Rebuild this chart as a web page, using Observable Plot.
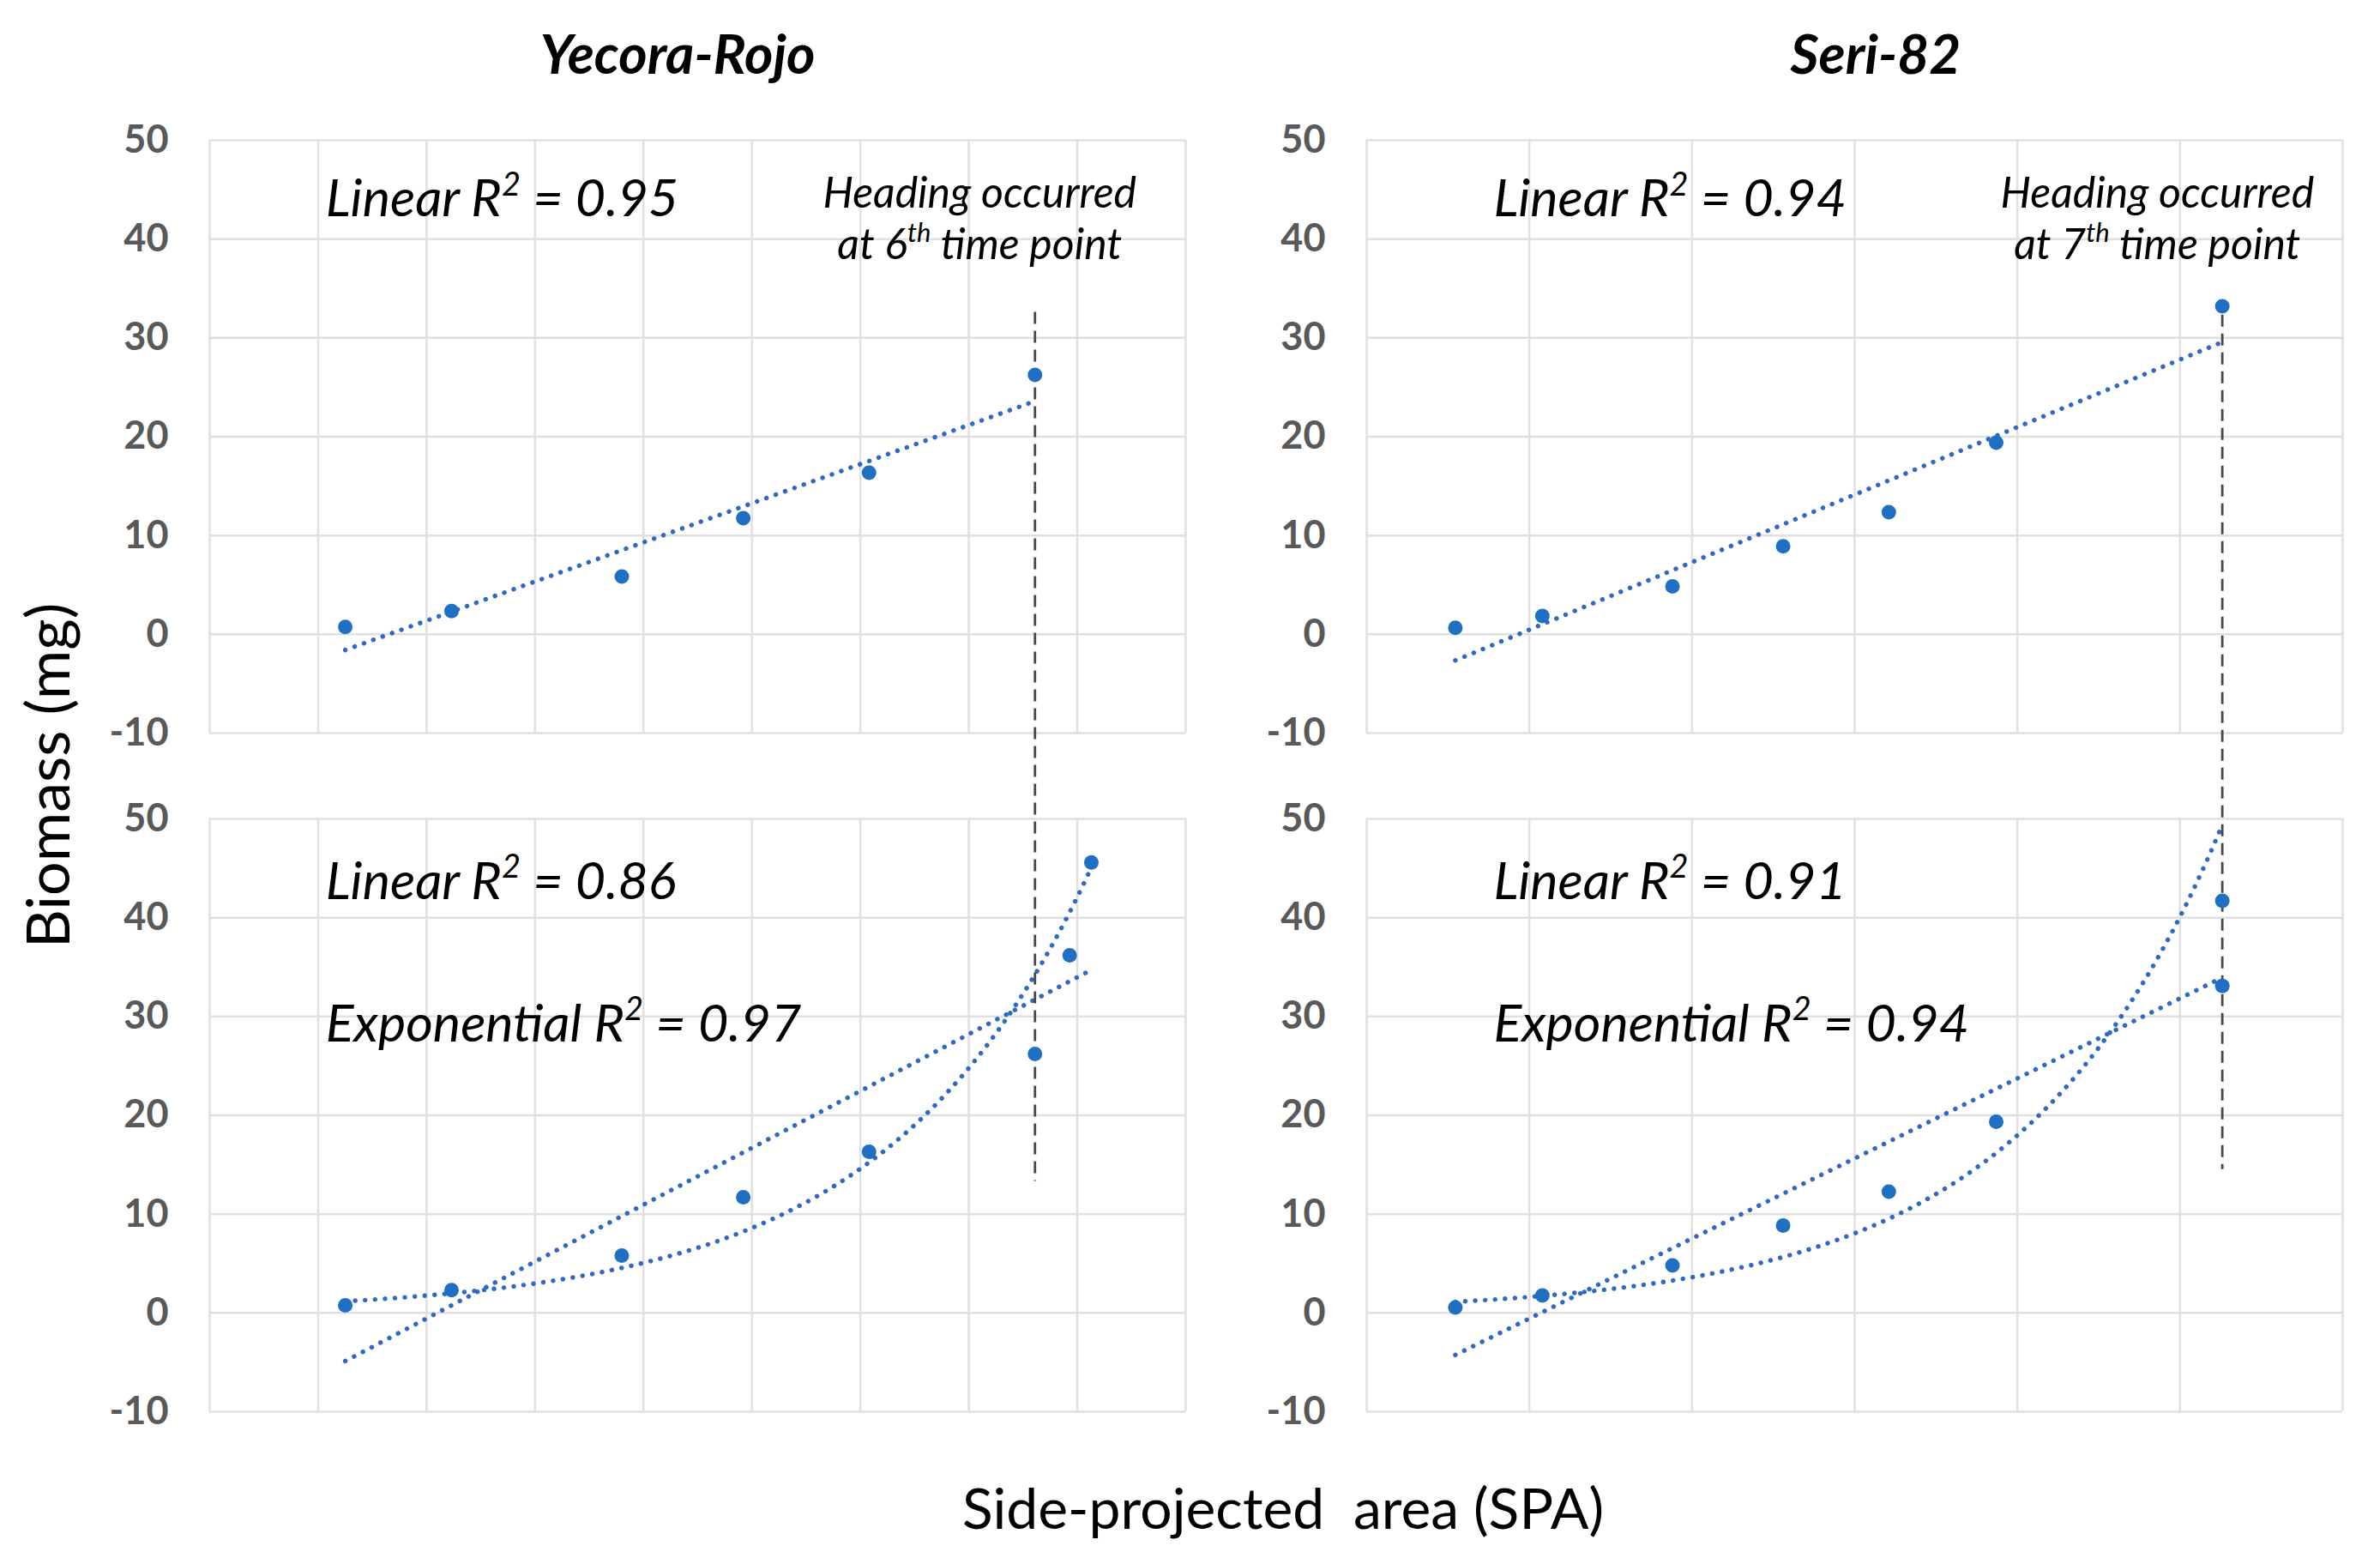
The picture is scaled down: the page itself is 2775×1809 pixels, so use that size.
<!DOCTYPE html>
<html><head><meta charset="utf-8">
<script src="https://cdn.jsdelivr.net/npm/d3@7"></script>
<script src="https://cdn.jsdelivr.net/npm/@observablehq/plot@0.6"></script>
<style>
html,body{margin:0;padding:0;background:#fff;}
#fig{position:relative;width:2775px;height:1809px;font-family:Lato,"Open Sans",sans-serif;overflow:hidden;background:#fff;}
.abs{position:absolute;white-space:nowrap;line-height:1;}
svg{overflow:visible;}
</style></head><body><div id="fig"></div>
<script>
// ---------- data ----------
const titles = ["Yecora-Rojo", "Seri-82"];
const yTicks = [-10, 0, 10, 20, 30, 40, 50];
const yecoraGridX = [0, 1, 2, 3, 4, 5, 6, 7, 8, 9];
const seriGridX = [0, 1, 2, 3, 4, 5, 6];

const yecoraTopSPA = [1.25, 2.23, 3.80, 4.92, 6.08, 7.61];
const yecoraTopBiomass = [0.75, 2.35, 5.85, 11.75, 16.35, 26.25];
const yecoraBottomSPA = [1.25, 2.23, 3.80, 4.92, 6.08, 7.61, 7.93, 8.13];
const yecoraBottomBiomass = [0.76, 2.3, 5.8, 11.7, 16.3, 26.2, 36.2, 45.6];

const seriTopSPA = [0.545, 1.08, 1.88, 2.56, 3.21, 3.87, 5.26];
const seriTopBiomass = [0.65, 1.85, 4.85, 8.9, 12.35, 19.4, 33.2];
const seriBottomSPA = [0.545, 1.08, 1.88, 2.56, 3.21, 3.87, 5.26, 5.26];
const seriBottomBiomass = [0.55, 1.77, 4.8, 8.84, 12.27, 19.34, 33.1, 41.7];

// heading marker: SPA, top of line (top panel), end of line (bottom panel)
const yecoraHeading = {spa: 7.61, from: 32.6, to: 13.3};
const seriHeading = {spa: 5.26, from: 32.3, to: 14.5};

const yecoraLabels = {
  top: ["Linear R^2 = 0.95"], bottom: ["Linear R^2 = 0.86", "Exponential R^2 = 0.97"],
  heading: ["Heading occurred", "at 6^th time point"]
};
const seriLabels = {
  top: ["Linear R^2 = 0.94"], bottom: ["Linear R^2 = 0.91", "Exponential R^2 = 0.94"],
  heading: ["Heading occurred", "at 7^th time point"]
};

// ---------- helpers ----------
const BLUE = "#1f6fc3";
const TREND = "#2f69c2";
function linFit(xs, ys) {
  const mx = d3.mean(xs), my = d3.mean(ys);
  const b = d3.sum(xs, (x, i) => (x - mx) * (ys[i] - my)) / d3.sum(xs, x => (x - mx) ** 2);
  return {a: my - b * mx, b};
}
function expFit(xs, ys) {
  const f = linFit(xs, ys.map(Math.log));
  return {A: Math.exp(f.a), B: f.b};
}
function pts(panel, xs, ys) { return xs.map((x, i) => ({panel, spa: x, biomass: ys[i]})); }
function linLine(panel, xs, ys) {
  const f = linFit(xs, ys), [x0, x1] = d3.extent(xs);
  return [x0, x1].map(x => ({panel, fit: panel + "lin", spa: x, biomass: f.a + f.b * x}));
}
function expCurve(panel, xs, ys) {
  const f = expFit(xs, ys), [x0, x1] = d3.extent(xs);
  return d3.range(0, 81).map(i => {
    const x = x0 + (x1 - x0) * i / 80;
    return {panel, fit: panel + "exp", spa: x, biomass: f.A * Math.exp(f.B * x)};
  });
}
function superscripts(svg) {
  d3.select(svg).selectAll("text").each(function() {
    const t = this.textContent;
    if (!t.includes("^")) return;
    const fs = parseFloat(getComputedStyle(this).fontSize) || 50;
    const parts = t.split(/\^(\w+)/);
    this.textContent = "";
    let raised = false;
    parts.forEach((p, i) => {
      if (!p) { return; }
      const ts = document.createElementNS("http://www.w3.org/2000/svg", "tspan");
      ts.textContent = p;
      if (i % 2 === 1) {
        ts.setAttribute("font-size", (fs * 0.62).toFixed(1));
        ts.setAttribute("dy", (-fs * 0.4).toFixed(1));
        raised = true;
      } else if (raised) {
        ts.setAttribute("dy", (fs * 0.4).toFixed(1));
        raised = false;
      }
      this.appendChild(ts);
    });
  });
}

const PAD = 0.12626;
const gapUnits = 60 * PAD / (1 - PAD);

function column(o) {
  const points = [...pts("top", o.topX, o.topY), ...pts("bottom", o.botX, o.botY)];
  const fits = [...linLine("top", o.topX, o.topY), ...linLine("bottom", o.botX, o.botY), ...expCurve("bottom", o.botX, o.botY)];
  const heading = [{panel: "top", spa: o.heading.spa, y1: o.heading.from, y2: o.heading.to - 60 - gapUnits}];
  const rx = o.labelX;
  const rTexts = [
    {panel: "top", x: rx, y: 44.0, text: o.labels.top[0]},
    {panel: "bottom", x: rx, y: 43.6, text: o.labels.bottom[0]},
    {panel: "bottom", x: rx, y: 29.2, text: o.labels.bottom[1]}
  ];
  const hTexts = [
    {panel: "top", x: o.headX, y: 44.6, text: o.labels.heading[0]},
    {panel: "top", x: o.headX, y: 39.4, text: o.labels.heading[1]}
  ];
  return Plot.plot({
    width: o.width, height: 1700,
    marginLeft: o.ml, marginRight: o.mr, marginTop: 162, marginBottom: 54,
    x: {domain: d3.extent(o.gridX), axis: null},
    y: {domain: [-10, 50], axis: null},
    fy: {domain: ["top", "bottom"], axis: null, paddingInner: PAD, paddingOuter: 0},
    style: {fontFamily: "Lato, 'Open Sans', sans-serif", background: "transparent", overflow: "visible"},
    marks: [
      Plot.gridX(o.gridX, {stroke: "#e0e0e0", strokeOpacity: 1, strokeWidth: 2.5}),
      Plot.gridY(yTicks, {stroke: "#e0e0e0", strokeOpacity: 1, strokeWidth: 2.5}),
      Plot.axisY(yTicks, {tickSize: 0, tickPadding: 48, fontSize: 45, fill: "#595959", fontWeight: "bold", tickFormat: d => String(d), label: null}),
      Plot.line(fits, {x: "spa", y: "biomass", fy: "panel", z: "fit", stroke: TREND, strokeWidth: 5.4, strokeDasharray: "0.1,11.5", strokeLinecap: "round"}),
      Plot.ruleX(heading, {x: "spa", y1: "y1", y2: "y2", fy: "panel", stroke: "#474747", strokeWidth: 2.8, strokeDasharray: "14,8"}),
      Plot.dot(points, {x: "spa", y: "biomass", fy: "panel", r: 8.5, fill: BLUE, stroke: "none"}),
      Plot.text(rTexts, {x: "x", y: "y", fy: "panel", text: "text", textAnchor: "start", fontSize: 61, fontStyle: "italic", fill: "#000"}),
      Plot.text(hTexts, {x: "x", y: "y", fy: "panel", text: "text", textAnchor: "middle", fontSize: 50, fontStyle: "italic", fill: "#000"})
    ]
  });
}

const fig = document.getElementById("fig");
function place(el, left, top) {
  el.style.position = "absolute"; el.style.left = left + "px"; el.style.top = top + "px";
  fig.appendChild(el);
  superscripts(el);
}
place(column({width: 1400, ml: 244, mr: 18, gridX: yecoraGridX,
  topX: yecoraTopSPA, topY: yecoraTopBiomass, botX: yecoraBottomSPA, botY: yecoraBottomBiomass,
  heading: yecoraHeading, labels: yecoraLabels, labelX: 1.07, headX: 7.10}), 0, 0);
place(column({width: 1375, ml: 193, mr: 44, gridX: seriGridX,
  topX: seriTopSPA, topY: seriTopBiomass, botX: seriBottomSPA, botY: seriBottomBiomass,
  heading: seriHeading, labels: seriLabels, labelX: 0.78, headX: 4.86}), 1400, 0);

function label(text, cx, cy, css, rotate) {
  const d = document.createElement("div");
  d.className = "abs"; d.textContent = text;
  Object.assign(d.style, css);
  d.style.left = cx + "px"; d.style.top = cy + "px";
  d.style.transform = "translate(-50%,-50%)" + (rotate ? " rotate(-90deg)" : "");
  fig.appendChild(d);
}
label(titles[0], 790, 62, {fontSize: "64px", fontWeight: "bold", fontStyle: "italic", color: "#000"});
label(titles[1], 2187, 62, {fontSize: "64px", fontWeight: "bold", fontStyle: "italic", color: "#000"});
label("Biomass (mg)", 54, 904, {fontSize: "70px", color: "#000"}, true);
label("Side-projected  area (SPA)", 1496, 1757, {fontSize: "66px", color: "#000", whiteSpace: "pre"});
</script></body></html>
